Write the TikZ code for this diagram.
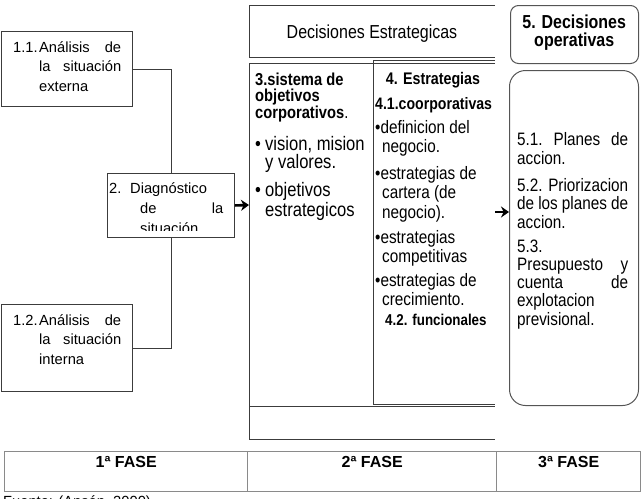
\documentclass[tikz,border=0pt]{standalone}
\usepackage{fontspec}
\setmainfont{Liberation Sans}
\newfontfamily\narrowfont[FakeStretch=0.85]{Liberation Sans}
\usetikzlibrary{arrows.meta}
\definecolor{dk}{HTML}{3C3C3C}
\definecolor{tb}{HTML}{8A8A8A}
\definecolor{rb}{HTML}{555555}
\tikzset{
  box/.style={draw=dk, line width=0.9pt, inner sep=0pt, anchor=north west},
  rbox/.style={draw=rb, line width=1pt, inner sep=0pt, anchor=north west},
  tbl/.style={draw=tb, line width=1.3pt, inner sep=0pt, anchor=north west},
  txt/.style={anchor=base west, inner sep=0pt},
  ctxt/.style={anchor=base, inner sep=0pt},
  wire/.style={draw=dk, line width=0.9pt},
  fat/.style={line width=2.6pt, -{Stealth[length=8pt,width=11pt]}},
  frame/.style={draw=dk, line width=0.9pt}
}
\newcommand{\ar}{\fontsize{14.7}{19.5}\selectfont}
\newcommand{\nr}[2]{\narrowfont\fontsize{#1}{#2}\selectfont}
\begin{document}
\begin{tikzpicture}[x=1pt,y=-1pt]
\useasboundingbox (0,0) rectangle (644,498);

% phase 1 boxes
\node[box, minimum width=131pt, minimum height=75pt] (b11) at (1,31) {};
\node[txt] (t11) at (13,52) {\parbox[t]{108pt}{\ar\makebox[26pt][l]{1.1.}Análisis\hfill de\\ \hspace*{26pt}la\hfill situación\\ \hspace*{26pt}externa}};

\node[box, minimum width=127pt, minimum height=64pt] (b2) at (107,173) {};
\begin{scope}
\clip (108,174) rectangle (233,230.5);
\node[txt] (t2) at (109,193) {\parbox[t]{114pt}{\fontsize{14.7}{20}\selectfont\makebox[21pt][l]{2.}Diagnóstico\\ \hspace*{31pt}de\hfill la\\ \hspace*{31pt}situación}};
\end{scope}

\node[box, minimum width=131pt, minimum height=87pt] (b12) at (1,304) {};
\node[txt] (t12) at (13,325) {\parbox[t]{108pt}{\ar\makebox[26pt][l]{1.2.}Análisis\hfill de\\ \hspace*{26pt}la\hfill situación\\ \hspace*{26pt}interna}};

\draw[wire] (b11.east) -| (b2.north);
\draw[wire] (b12.east) -| (b2.south);

% phase 2 frames
\draw[frame] (495,5) -- (249,5) -- (249,57) -- (495,57);
\node[ctxt] (tde) at (372,38) {\nr{18.8}{20}Decisiones Estrategicas};
\draw[frame] (495,63) -- (249,63) -- (249,439) -- (495,439);
\draw[frame] (249,406) -- (495,406);
\draw[frame] (495,60) -- (373,60) -- (373,404) -- (495,404);

\coordinate (c3w) at (249,205);
\draw[fat] (b2.east) -- (c3w);

% column 3
\node[txt] (t3a) at (255,85) {\parbox[t]{116pt}{\nr{17.3}{16.5}\bfseries 3.sistema de\\ objetivos\\ corporativos\mdseries.}};
\node[txt] (t3b) at (255,150) {\parbox[t]{116pt}{\nr{19.5}{18}\makebox[10pt][l]{•}vision, mision\\ \hspace*{10pt}y valores.}};
\node[txt] (t3c) at (255,196) {\parbox[t]{116pt}{\nr{19.5}{20}\makebox[10pt][l]{•}objetivos\\ \hspace*{10pt}estrategicos}};

% column 4
\node[ctxt] (t4a) at (433,84) {\nr{16.8}{18}\bfseries 4. Estrategias};
\node[txt] (t4b) at (375,109) {\nr{16.6}{18}\bfseries 4.1.coorporativas};
\node[txt] (t4c) at (375,133) {\parbox[t]{118pt}{\nr{18}{19.5}•definicion del\\ \hspace*{7pt}negocio.}};
\node[txt] (t4d) at (375,179) {\parbox[t]{118pt}{\nr{18}{19.5}•estrategias de\\ \hspace*{7pt}cartera (de\\ \hspace*{7pt}negocio).}};
\node[txt] (t4e) at (375,243) {\parbox[t]{118pt}{\nr{18}{19.5}•estrategias\\ \hspace*{7pt}competitivas}};
\node[txt] (t4f) at (375,286) {\parbox[t]{118pt}{\nr{18}{19.5}•estrategias de\\ \hspace*{7pt}crecimiento.}};
\node[txt] (t4g) at (385,325) {\nr{15.7}{18}\bfseries 4.2. funcionales};

% phase 3
\node[rbox, rounded corners=8pt, minimum width=128pt, minimum height=58pt] (b5t) at (510,5) {};
\node[txt] (t5) at (510,28) {\parbox[t]{128pt}{\centering\nr{18.8}{18}\bfseries 5. Decisiones\\ operativas}};
\node[rbox, rounded corners=16pt, minimum width=129pt, minimum height=335pt] (b5c) at (509,70) {};
\coordinate (c4e) at (495,212);
\coordinate (b5in) at (509,212);
\draw[fat] (c4e) -- (b5in);

\node[txt] (t5a) at (517,145) {\parbox[t]{111pt}{\nr{18}{19}5.1.\hfill Planes\hfill de\\ accion.}};
\node[txt] (t5b) at (517,191) {\parbox[t]{111pt}{\nr{18}{18.5}5.2.\hfill Priorizacion\\ de\hfill los\hfill planes\hfill de\\ accion.}};
\node[txt] (t5c) at (517,252) {\parbox[t]{111pt}{\nr{18}{18.3}5.3.\\ Presupuesto\hfill y\\ cuenta\hfill de\\ explotacion\\ previsional.}};

% phase table
\node[tbl, minimum width=243pt, minimum height=40pt] (f1) at (4,451) {};
\node[tbl, minimum width=249pt, minimum height=40pt] (f2) at (247,451) {};
\node[tbl, minimum width=144pt, minimum height=40pt] (f3) at (496,451) {};
\node[ctxt, font=\fontsize{16}{18}\selectfont\bfseries] (l1) at (f1.north |- 0,467) {1ª FASE};
\node[ctxt, font=\fontsize{16}{18}\selectfont\bfseries] (l2) at (f2.north |- 0,467) {2ª FASE};
\node[ctxt, font=\fontsize{16}{18}\selectfont\bfseries] (l3) at (f3.north |- 0,467) {3ª FASE};

\node[txt] (src) at (3,506) {\ar Fuente: (Ansón, 2000)};
\end{tikzpicture}
\end{document}
